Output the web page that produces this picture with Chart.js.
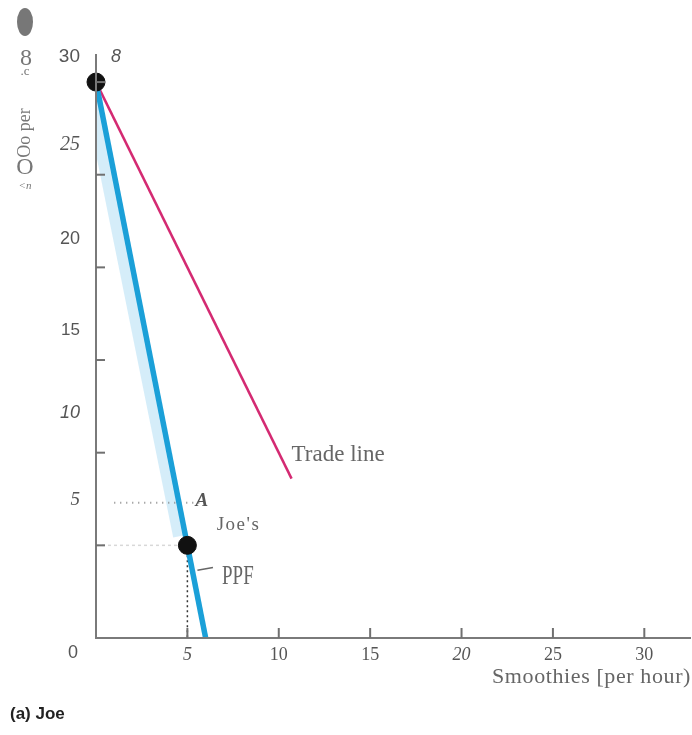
<!DOCTYPE html>
<html>
<head>
<meta charset="utf-8">
<script src="https://cdn.jsdelivr.net/npm/chart.js@4.4.0/dist/chart.umd.min.js"></script>
<style>
    html, body { margin: 0; padding: 0; background: #fff; }
    canvas { display: block; }
</style>
</head>
<body>
<canvas id="joeChart" width="692" height="735"></canvas>
<script>
// tick labels
const xTicks = [0, 5, 10, 15, 20, 25, 30];
const yTicks = [0, 5, 10, 15, 20, 25, 30];

// Joe's production possibilities frontier (smoothies, salads)
const ppfSmoothies = [0, 6];
const ppfSalads = [30, 0];

// light band along the upper PPF
const haloSmoothies = [-0.3, 4.6];
const haloSalads = [29.5, 5.5];

// trade line
const tradeSmoothies = [0, 10.7];
const tradeSalads = [30, 8.6];

// marked points B and the production point
const pointSmoothies = [0, 5];
const pointSalads = [30, 5];

// dotted pointer to A
const pointerSmoothies = [1, 5.7];
const pointerSalads = [7.3, 7.3];

const toXY = (xs, ys) => xs.map((x, i) => ({ x: x, y: ys[i] }));

const sans = '"Liberation Sans", "DejaVu Sans", sans-serif';
const serif = '"Liberation Serif", "DejaVu Serif", serif';

const xTickFonts = {
    5: { family: serif, size: 18, style: 'italic' },
    10: { family: serif, size: 18 },
    15: { family: serif, size: 18 },
    20: { family: serif, size: 18, style: 'italic' },
    25: { family: serif, size: 18 },
    30: { family: serif, size: 18 }
};

// y labels sit above their ticks in the original
const yLabelStyle = {
    5: { font: 'italic 19px ' + serif, shift: -45 },
    10: { font: 'italic 18px ' + sans, shift: -40 },
    15: { font: '17px ' + sans, shift: -30 },
    20: { font: '18px ' + sans, shift: -28 },
    25: { font: 'italic 20px ' + serif, shift: -30 },
    30: { font: '19px ' + sans, shift: -25 }
};

const annotations = {
    id: 'annotations',
    afterDraw(chart) {
        const ctx = chart.ctx;
        const xs = chart.scales.x;
        const ys = chart.scales.y;
        const area = chart.chartArea;

        ctx.save();
        // inward tick marks
        ctx.strokeStyle = '#707070';
        ctx.lineWidth = 2;
        xTicks.slice(1).forEach((v) => {
            const px = xs.getPixelForValue(v);
            ctx.beginPath();
            ctx.moveTo(px, area.bottom);
            ctx.lineTo(px, area.bottom - 10);
            ctx.stroke();
        });
        yTicks.slice(1).forEach((v) => {
            const py = ys.getPixelForValue(v);
            ctx.beginPath();
            ctx.moveTo(area.left, py);
            ctx.lineTo(area.left + 9, py);
            ctx.stroke();
        });

        ctx.fillStyle = '#555';
        ctx.textBaseline = 'middle';

        // y tick labels
        ctx.textAlign = 'right';
        yTicks.slice(1).forEach((v) => {
            const st = yLabelStyle[v];
            ctx.font = st.font;
            ctx.fillText(String(v), area.left - 16, ys.getPixelForValue(v) + st.shift);
        });

        // origin label
        ctx.font = '18px ' + sans;
        ctx.textAlign = 'center';
        ctx.fillText('0', area.left - 23, area.bottom + 15);

        // point labels
        ctx.font = 'italic 18px ' + sans;
        ctx.textAlign = 'left';
        ctx.fillText('8', xs.getPixelForValue(0) + 15, ys.getPixelForValue(30) - 25);

        ctx.font = 'italic bold 19px ' + serif;
        ctx.fillText('A', xs.getPixelForValue(5.45), ys.getPixelForValue(7.4));

        ctx.fillStyle = '#666';
        ctx.font = '19px ' + serif;
        ctx.letterSpacing = '1.5px';
        ctx.fillText('Joe\'s', xs.getPixelForValue(6.6), ys.getPixelForValue(6.1));
        ctx.letterSpacing = '0px';

        ctx.save();
        ctx.translate(xs.getPixelForValue(6.9), ys.getPixelForValue(3.3));
        ctx.scale(0.7, 1);
        ctx.font = '27px ' + serif;
        ctx.fillText('PPF', 0, 0);
        ctx.restore();

        ctx.font = '23px ' + serif;
        ctx.fillText('Trade line', xs.getPixelForValue(10.7), ys.getPixelForValue(9.9));

        // leader to PPF
        ctx.strokeStyle = '#666';
        ctx.lineWidth = 1.5;
        ctx.beginPath();
        ctx.moveTo(xs.getPixelForValue(5.55), ys.getPixelForValue(3.65));
        ctx.lineTo(xs.getPixelForValue(6.4), ys.getPixelForValue(3.8));
        ctx.stroke();

        // x axis title
        ctx.font = '22px ' + serif;
        ctx.textAlign = 'right';
        ctx.letterSpacing = '0.6px';
        ctx.fillText('Smoothies [per hour)', 691, 677);
        ctx.letterSpacing = '0px';

        // panel caption
        ctx.font = 'bold 17px ' + sans;
        ctx.textAlign = 'left';
        ctx.fillStyle = '#222';
        ctx.fillText('(a) Joe', 10, 714);

        // garbled vertical axis title
        ctx.fillStyle = '#777';
        ctx.beginPath();
        ctx.ellipse(25, 22, 8, 14, 0, 0, Math.PI * 2);
        ctx.fill();
        ctx.font = '24px ' + serif;
        ctx.textAlign = 'center';
        ctx.fillText('8', 26, 59);
        ctx.font = '13px ' + serif;
        ctx.fillText('.c', 25, 72);
        ctx.save();
        ctx.translate(25, 133);
        ctx.rotate(-Math.PI / 2);
        ctx.font = '18px ' + serif;
        ctx.fillText('Oo per', 0, 0);
        ctx.restore();
        ctx.font = '24px ' + serif;
        ctx.fillText('O', 25, 168);
        ctx.font = 'italic 11px ' + serif;
        ctx.fillText('<n', 25, 186);
        ctx.restore();
    }
};

new Chart(document.getElementById('joeChart'), {
    type: 'scatter',
    data: {
        datasets: [
            {
                data: toXY(haloSmoothies, haloSalads),
                showLine: true,
                borderColor: 'rgba(190, 228, 246, 0.65)',
                borderWidth: 14,
                pointRadius: 0,
                order: 6
            },
            {
                data: toXY(tradeSmoothies, tradeSalads),
                showLine: true,
                borderColor: '#d42a72',
                borderWidth: 2.5,
                pointRadius: 0,
                order: 4
            },
            {
                data: toXY(ppfSmoothies, ppfSalads),
                showLine: true,
                borderColor: '#1ba0d8',
                borderWidth: 5.5,
                pointRadius: 0,
                order: 3
            },
            {
                data: toXY([pointSmoothies[1], pointSmoothies[1]], [pointSalads[1], 0]),
                showLine: true,
                borderColor: '#333',
                borderWidth: 1.5,
                borderDash: [2, 3],
                pointRadius: 0,
                order: 5
            },
            {
                data: toXY([0, pointSmoothies[1]], [pointSalads[1], pointSalads[1]]),
                showLine: true,
                borderColor: '#d8d8d8',
                borderWidth: 1.5,
                borderDash: [3, 3],
                pointRadius: 0,
                order: 5
            },
            {
                data: toXY(pointerSmoothies, pointerSalads),
                showLine: true,
                borderColor: '#888',
                borderWidth: 2,
                borderDash: [1, 5],
                pointRadius: 0,
                order: 5
            },
            {
                data: toXY(pointSmoothies, pointSalads),
                backgroundColor: '#111',
                borderColor: '#111',
                pointRadius: 9,
                clip: false,
                order: 1
            }
        ]
    },
    options: {
        responsive: false,
        animation: false,
        layout: {
            autoPadding: false,
            padding: { left: 0, right: 2, top: 55, bottom: 0 }
        },
        plugins: {
            legend: { display: false },
            tooltip: { enabled: false }
        },
        scales: {
            x: {
                type: 'linear',
                min: 0,
                max: 32.5,
                afterFit: (scale) => { scale.height = 97; },
                afterBuildTicks: (scale) => { scale.ticks = xTicks.map((v) => ({ value: v })); },
                grid: { drawOnChartArea: false, drawTicks: false },
                border: { color: '#7a7a7a', width: 2, z: 1 },
                ticks: {
                    padding: 6,
                    color: '#555',
                    callback: (v) => (v === 0 ? '' : String(v)),
                    font: (ctx) => xTickFonts[ctx.tick && ctx.tick.value] || { family: serif, size: 18 }
                }
            },
            y: {
                type: 'linear',
                min: 0,
                max: 31.46,
                afterFit: (scale) => { scale.width = 96; },
                afterBuildTicks: (scale) => { scale.ticks = yTicks.map((v) => ({ value: v })); },
                grid: { drawOnChartArea: false, drawTicks: false },
                border: { color: '#7a7a7a', width: 2, z: 1 },
                ticks: {
                    callback: () => ''
                }
            }
        }
    },
    plugins: [annotations]
});
</script>
</body>
</html>
